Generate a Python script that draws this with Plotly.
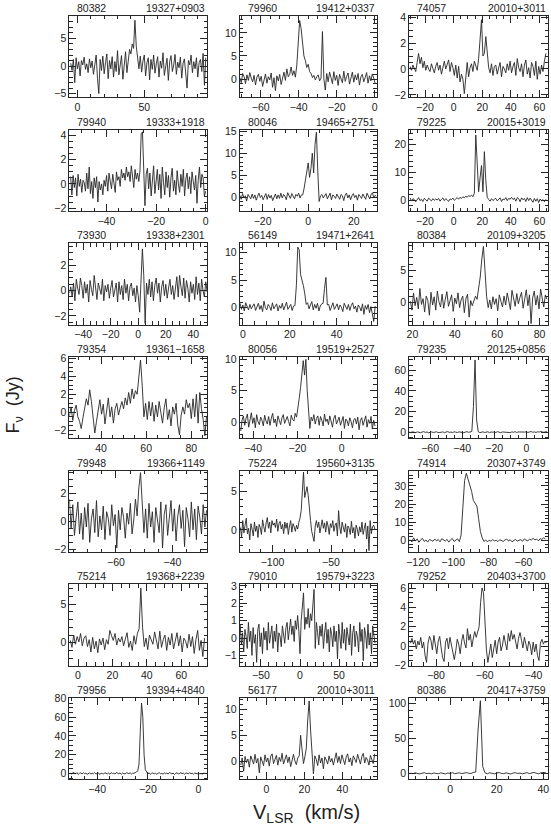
import plotly.graph_objects as go

# panels in column order (left column top->bottom, then middle, then right)
ids = ["80382", "79940", "73930", "79354", "79948", "75214", "79956",
       "79960", "80046", "56149", "80056", "75224", "79010", "56177",
       "74057", "79225", "80384", "79235", "74914", "79252", "80386"]
sources = ["19327+0903", "19333+1918", "19338+2301", "19361\u22121658", "19366+1149", "19368+2239", "19394+4840",
           "19412+0337", "19465+2751", "19471+2641", "19519+2527", "19560+3135", "19579+3223", "20010+3011",
           "20010+3011", "20015+3019", "20109+3205", "20125+0856", "20307+3749", "20403+3700", "20417+3759"]

# first channel velocity and channel width (km/s)
v_start = [-5, -54.5, -50, 26, -76.5, -4.5, -50.5,
           -71, -30, -1.2, -45.6, -127.5, -76.5, -13.5,
           -30.5, -30.5, 19, -73, -124.5, -90.5, -17]
v_step = [1, 0.5, 1, 0.75, 0.6, 1, 0.5,
          0.75, 0.6, 0.6, 0.6, 1, 1.5, 0.75,
          1, 1, 0.75, 1, 1, 0.6, 1]

flux_80382 = [0.5, -0.8, 1.2, -3.0, 1.5, -0.5, 0.8, -1.8, 1.0, 0.2, 1.6, -0.6, 0.4, -1.2, 1.3, -0.3, 0.9, -1.5,
              0.2, 2.0, -2.2, -5.0, 1.2, -0.8, 1.8, -1.4, 0.6, 2.2, -2.3, 1.0, -0.5, 1.7, -2.0, 0.8, -1.0, 2.8,
              -1.6, 0.5, 1.9, -2.4, 0.7, 2.6, -1.2, 1.5, 3.0, 2.2, 4.0, 3.2, 8.3, 3.6, 2.0, -0.5, 1.8, -1.1,
              0.9, 2.0, -1.8, 0.6, 1.5, -2.5, 1.2, -0.6, 2.0, -1.3, 0.4, 1.7, -2.0, 0.9, -0.4, 2.4, -1.7, 0.3,
              1.4, -2.6, 0.8, 1.9, -1.0, 0.2, 2.1, -1.5, 0.7, -0.3, 1.6, -2.2, 0.5, 1.3, -1.8, -4.0, 1.0, 0.2,
              2.0, -1.2, 0.8, -0.5, 1.5, -2.0, 0.6, 1.2, -1.0, 2.3, -3.5, 1.5]
flux_79940 = [0.6, -0.9, 0.7, -0.3, 0.5, -1.0, 0.8, -0.2, 0.4, -0.7, 0.3, 0.1, -0.6, 0.9, -0.4, 1.4, -0.8, 0.2,
              -1.2, 0.5, -0.3, 0.6, -1.5, 0.2, -0.5, 0.0, -0.9, 0.3, -0.2, 0.7, -0.6, 0.9, 0.2, -0.4, 0.8, 0.1,
              -0.7, 1.0, 0.3, 0.6, -0.2, 1.2, 0.5, 0.9, 0.3, 1.4, 0.6, 1.0, 0.2, 1.5, 0.7, -0.3, 1.2, 0.4,
              0.9, 0.2, 1.1, 4.2, 4.3, 0.5, -1.8, 0.8, 1.3, -0.4, 0.9, -1.0, 0.6, 1.5, -0.8, 0.2, 1.2, -0.5,
              0.8, -1.2, 1.4, 0.1, -0.9, 1.0, -0.3, 0.7, -1.1, 0.5, 1.3, -0.6, 0.3, -0.9, 1.1, 0.0, -0.7, 0.8,
              -0.2, 1.2, -1.0, 0.4, 0.9, -0.4, 0.6, -0.8, 1.0, 0.2, -0.5, 0.7, -1.6, 0.3, 1.4, -0.3, 0.8, 0.5,
              -1.0, -0.6]
flux_73930 = [-0.2, 0.3, -0.5, 0.6, -0.8, 0.9, 0.2, -0.3, 1.0, 0.4, -0.6, 0.7, -0.2, 0.5, -0.9, 0.8, 0.1, -0.4,
              1.2, 0.3, -0.7, 0.6, 0.0, -0.3, 0.9, -0.8, 0.4, -0.1, 0.5, -0.6, 0.2, 0.8, -0.5, 0.1, 0.6, -0.9,
              0.7, -0.3, 0.4, -0.7, 0.9, -0.2, 0.5, -0.8, 0.3, 0.6, -0.4, 0.2, -0.9, 0.4, -0.4, -1.7, 0.8, 3.3,
              1.2, -2.6, 0.6, -0.3, 0.9, -0.5, 0.7, -0.8, 0.4, 1.0, -0.2, 0.6, -0.9, 0.3, 0.8, -0.4, 0.5, -0.6,
              0.2, 0.9, -0.3, 0.4, -0.7, 0.1, 1.1, -0.5, 1.2, 0.3, -0.4, 1.0, -0.6, 0.8, 0.2, -0.9, 0.7, -0.2,
              0.5, -0.7, 1.1, -0.3, 0.6, -0.8, 0.9, 0.0, -0.5, 0.7, -0.1]
flux_79354 = [-0.4, 0.6, -0.9, 0.2, 0.8, -0.5, -1.0, -1.8, -0.6, 0.5, 1.5, 0.8, 2.5, 1.2, -0.8, -2.3, -1.0, 0.5,
              1.4, -0.2, 0.9, -1.3, 0.3, 1.6, -0.5, 0.6, -1.2, 0.4, 1.0, -0.3, 0.5, 1.2, 0.4, 1.6, 0.8, 2.2,
              1.0, 2.6, 1.5, 2.4, 2.0, 4.2, 5.8, 3.0, -0.5, 1.0, -0.8, 1.2, -0.4, 1.1, -1.0, 0.8, -0.5, 1.2,
              0.2, -1.2, 0.5, 1.5, -0.8, 0.3, -1.5, 0.6, -0.2, 1.0, -1.4, -2.5, -0.3, 0.6, -0.2, 1.4, 0.5, 1.0,
              -0.7, 1.5, -0.5, 2.0, -1.2, 2.2, 0.4, -0.8, -2.6, -0.4]
flux_79948 = [1.6, -0.5, 1.2, -1.0, 0.3, 1.4, -0.9, 0.6, -1.3, 1.0, -0.4, 1.3, -1.5, 0.2, 0.9, -0.8, 1.5, -1.1,
              0.4, -0.6, 1.1, -1.3, 0.7, 0.2, -1.0, 1.2, -0.3, 0.5, -1.9, 0.8, -0.6, 1.0, 0.3, -1.2, 0.6, -0.2,
              1.3, -0.9, 0.1, 1.6, 0.4, 2.4, 3.5, 1.5, -0.8, 0.9, -1.2, 1.3, -0.4, 0.7, -1.5, 1.0, 0.2, -0.8,
              1.4, -1.9, 0.5, 1.2, -1.0, 0.3, 1.5, -0.7, 0.9, -1.4, 0.4, 1.2, -0.5, 0.8, -1.8, 1.0, 0.2, -1.1,
              1.4, -0.6, 0.9, -1.3, 1.1, 0.3, -0.9, 1.2, -0.4, 0.8]
flux_75214 = [0.3, -0.6, 1.0, -0.2, 0.8, 0.1, 1.2, -0.4, 0.6, 0.9, -0.5, 0.4, -1.2, 0.7, -0.8, 0.2, -1.3, 0.5,
              -0.3, 0.6, -0.9, 0.4, -0.2, 1.6, 0.9, 0.3, 1.2, -0.3, 0.6, 0.1, 0.8, -0.4, 0.5, 1.3, -0.6, 0.2,
              -1.0, 0.9, -0.2, 1.2, 1.8, 7.1, 2.0, -0.5, 0.6, -0.9, 1.0, 0.3, -0.2, 1.4, 0.2, -0.8, 1.5, -0.6,
              0.4, 1.0, -1.0, 0.7, -0.3, 1.2, -0.8, 0.5, 1.3, -0.4, 0.9, -1.2, 0.6, 0.2, -0.7, 1.1, -0.5, 0.8,
              -1.4, 0.4, 1.6, -1.0, 0.3, -1.8, 0.6]
flux_79956 = [0.5, -0.8, 1.2, 0.2, -0.5, 0.9, -1.0, 0.3, 0.6, -0.4, 0.8, -0.2, 0.4, -0.9, 0.1, 0.7, -0.6, 0.3,
              -0.3, 0.9, -0.5, 0.2, 0.6, -1.1, 0.4, 0.0, -0.7, 0.8, 0.2, -0.4, 0.5, -0.8, 0.9, -0.1, 0.3, -0.6,
              1.0, 0.2, -0.3, 0.6, -0.9, 0.4, 0.1, -0.5, 0.8, 0.3, -0.2, 0.7, -0.6, 0.4, 0.2, 0.9, 1.5, 3.0,
              10.0, 45.0, 75.0, 60.0, 20.0, 4.0, 1.0, -0.5, 0.8, -0.9, 0.3, 0.6, -0.4, 0.2, -0.8, 0.5, 0.9, -0.3,
              0.1, -0.7, 0.6, -0.2, 0.4, -0.6, 1.0, 0.3, -0.4, 0.5, -1.2, 0.2, 0.7, -0.5, 0.1, 0.8, -0.3, 0.4,
              -0.9, 0.6, 0.2, -0.5, 0.9, -0.2, 0.3, -0.7, 0.5, 0.1, -0.4, 0.8, -0.6, 0.3, -1.0, 0.4, 0.2]
flux_79960 = [0.3, -0.8, 1.2, 0.5, -1.0, 0.9, -0.3, 1.4, 0.2, -0.6, 0.8, -1.3, 0.4, 1.0, -0.5, 0.6, -1.6, 0.2,
              1.1, -0.9, 0.5, -0.2, 1.3, -1.8, 0.3, -2.5, 0.7, -0.4, 1.0, -1.2, 0.6, 1.5, -0.3, 2.2, 0.5, 1.0,
              2.6, 0.8, 1.8, 0.4, 3.0, 8.5, 12.7, 11.0, 7.5, 5.0, 4.0, 2.5, 3.2, 1.6, 1.2, 0.3, 0.8, -0.2,
              0.5, 0.9, -0.4, 0.2, 10.3, 0.0, -2.4, 1.2, -0.6, 1.5, 0.3, -1.0, 1.6, -0.3, 0.8, -1.4, 1.0, 0.2,
              -0.8, 1.7, -0.5, 0.6, 1.3, -1.1, 0.4, 1.5, -0.7, 0.9, -0.2, 1.2, -1.3, 0.5, 1.0, -0.6, 0.3, 1.4,
              -0.9, 0.7, -0.4, 1.1, 0.2, -1.0]
flux_80046 = [0.4, -0.5, 0.8, -0.2, 0.3, -0.9, 0.6, 0.1, -0.4, 0.7, -0.3, 0.5, -0.7, 0.2, 0.9, -0.1, 0.4, -0.6,
              0.3, 0.8, -0.5, 0.6, -0.2, 0.4, -0.8, 0.1, 0.7, -0.4, 0.5, -0.3, 0.9, -0.2, 0.6, 0.2, -0.6, 1.0,
              0.3, -0.3, 0.8, 0.1, -0.4, 0.6, 0.2, 0.9, -0.2, 0.5, 0.5, 2.0, 4.0, 6.0, 7.8, 4.5, 6.5, 10.0,
              5.5, 12.0, 14.8, 6.0, -1.0, 0.3, 0.6, -0.2, 0.4, 0.8, -0.4, 0.3, 0.9, -0.6, 0.5, 0.2, -0.3, 0.7,
              0.1, -0.5, 0.6, 0.3, -0.8, 0.4, 0.9, -0.2, 0.5, -0.6, 0.3, 0.8, -0.1, 0.4, -0.7, 0.6, 0.2, -0.3,
              0.7, 0.1, -0.5, 0.9, 0.3, -0.4, 0.6, 1.0, -0.2, 0.4, 0.1]
flux_56149 = [0.8, -0.3, 0.5, -0.6, 0.9, 0.2, -0.4, 0.6, -0.2, 0.3, 0.7, -0.5, 0.1, 0.8, -0.3, 0.4, -0.7, 1.2,
              0.0, -0.4, 0.6, 0.2, -0.5, 0.9, -0.2, 0.3, 0.7, -0.6, 0.4, -0.1, 0.8, -0.4, 0.5, 1.0, -0.3, 0.2,
              0.6, -0.5, 0.3, 0.4, 4.0, 11.0, 10.5, 6.0, 5.2, 4.0, 2.5, 0.6, 0.9, -0.2, 0.5, 1.1, -0.4, 0.6,
              -0.1, 0.8, -0.6, 0.3, 0.7, 0.8, 3.5, 5.5, 0.5, 0.6, -0.5, 0.4, 0.9, -0.3, 0.2, 0.7, -0.4, 0.5,
              0.1, -0.7, 0.8, 0.2, -0.3, 0.6, -0.5, 0.4, 0.9, -0.2, 0.3, -0.8, 0.5, 0.1, -0.6, 0.7, -1.2, 0.4,
              -0.3, 0.6, -0.9, 0.2, -1.0, -2.5, 0.3]
flux_80056 = [-1.4, 0.3, 1.0, -0.5, 0.6, 1.3, -0.8, 0.4, 1.5, -0.2, 0.7, -0.9, 1.2, 0.1, -0.4, 0.8, 0.3, -0.6,
              1.1, 0.2, -0.3, 0.9, -0.5, 0.6, 1.4, -0.1, 0.5, -0.7, 1.0, 0.3, -0.4, 0.7, 1.2, -0.2, 0.5, 0.9,
              0.1, -0.6, 1.1, 0.4, 0.2, 1.4, 0.8, 2.0, 3.8, 5.5, 7.5, 9.8, 7.5, 10.0, 5.0, 1.0, -1.0, 0.8,
              0.2, 1.2, -0.3, 0.6, 1.0, -0.5, 0.9, 0.3, -0.6, 1.3, 0.1, 0.5, -0.4, 1.0, 0.2, -0.8, 0.6, 1.1,
              -0.3, 0.4, 0.8, -0.5, 0.3, 0.9, -1.0, 0.5, 0.2, -0.6, 0.7, 0.1, -0.9, 0.4, 0.6, -0.3, 0.8, -1.2,
              0.3, 0.7, -0.5, 0.2, 1.0, -0.8, 0.4, -0.2, 0.9, -1.1, 0.3, -0.6]
flux_75224 = [0.3, -0.9, 1.2, -0.4, 0.6, 1.5, -0.5, 0.2, -1.3, 0.8, 0.1, -0.8, 1.0, -0.2, 0.5, -1.0, 0.7, 0.3,
              -0.6, 1.3, 0.4, -0.3, 0.9, 1.6, 0.2, 1.0, -0.4, 1.2, 0.6, 0.9, 0.3, 1.4, -0.2, 0.8, 1.1, 0.1,
              0.7, -0.5, 1.0, 0.2, 0.9, -0.6, 0.5, 1.2, -0.3, 0.8, 0.4, -0.2, 0.6, 0.1, 1.0, 1.5, 2.5, 4.5,
              7.5, 4.2, 4.8, 5.6, 4.5, 2.5, 1.2, -0.2, -1.0, -1.5, 0.5, 1.2, 0.3, 1.0, -0.4, 0.8, 1.3, 0.2,
              0.9, -0.3, 1.1, 0.5, -0.6, 0.8, 0.3, 1.2, -0.2, 0.6, 0.9, -0.8, 2.5, 0.4, -0.5, 1.0, 0.2, -0.3,
              0.8, -1.0, 0.5, 0.2, -0.6, 1.1, -0.4, 0.3, -1.1, 0.6, 0.1, -0.8, 0.4, -0.3, 1.0, -0.6, 0.2, 0.9,
              -1.2, 0.5, -2.7, 1.2, -0.5, 0.4, 0.6, 0.1]
flux_79010 = [0.8, -0.4, 0.3, -0.8, 0.5, 0.1, -0.6, 0.9, -0.2, 0.4, -1.0, 0.6, -0.3, 0.2, -1.4, 0.5, 0.8, -0.5,
              0.3, -0.9, 0.6, -0.1, 0.4, -0.7, 0.9, -0.3, 0.2, 0.7, -0.6, 0.4, -0.2, 0.8, -0.8, 0.3, 0.1, -0.5,
              0.7, 0.2, -0.3, 0.6, 0.9, -0.1, 0.4, 1.1, 0.2, 0.7, -0.2, 1.0, 0.5, 1.3, 0.4, -0.9, 1.0, 1.8,
              2.6, 0.5, 1.2, 0.8, 1.7, 0.6, 1.4, 1.0, 2.2, 2.8, -0.6, 0.9, 0.3, -0.4, 0.7, 0.1, 0.8, -0.6,
              0.3, 0.9, -0.3, 0.5, -0.8, 0.6, 0.2, -0.5, 0.7, -0.2, 0.4, -1.2, 0.8, 0.1, -0.6, 0.9, -0.3, 0.5,
              -0.7, 0.6, 0.2, -0.4, 0.8, -1.0, 0.3, 0.7, -0.5, 0.4, 0.1, -0.8, 0.9, -0.2, 0.5, -1.3, 0.6, 0.2,
              -0.6, 0.8, -0.4, 0.3, -0.9, 0.7, 0.2, -0.3]
flux_56177 = [-0.8, 0.6, -2.0, 0.9, -0.3, 0.4, -1.2, 1.0, 0.2, -0.6, 1.3, -0.4, 0.5, -2.3, 0.8, 0.1, -0.9, 1.2,
              -0.2, 0.6, -1.0, 0.9, 1.4, -0.5, 0.3, 1.1, -0.8, 0.7, -0.1, 1.5, -0.6, 0.4, 1.2, -0.3, 0.8, -1.1,
              0.5, 1.3, 0.0, -0.7, 0.6, 1.0, 5.0, 1.5, -0.5, 0.8, 2.5, 8.0, 11.7, 6.0, 2.5, -2.5, 1.0, 0.3,
              -0.9, 1.2, -0.4, 0.6, -1.5, 0.8, 0.2, -0.6, 1.0, -0.2, 0.5, -0.8, 0.4, 1.6, -0.3, 0.9, -0.5, 1.2,
              0.3, -0.7, 0.8, 1.4, -0.2, 0.6, -0.9, 1.0, 0.4, -0.3, 1.3, 0.1, -0.6, 0.9, 1.5, -0.4, 0.7, 0.2,
              -0.8, 1.1, 0.3, -0.5, 1.4]
flux_74057 = [0.2, -0.1, 0.3, 0.1, -0.2, 0.5, 1.2, 0.4, 0.9, 0.1, 0.6, -0.1, 0.3, 0.0, -0.2, 0.4, 0.1, -0.3,
              0.2, 0.5, -0.1, 0.3, -0.4, 0.2, 0.6, 0.0, 0.4, 0.7, -0.2, 0.5, 0.1, -0.5, 0.3, -0.7, 0.2, -1.0,
              -0.4, -0.8, -1.9, -0.3, 0.5, -0.6, 0.1, 0.4, -0.2, 0.6, 0.2, -0.1, 0.8, 2.0, 3.8, 1.0, 1.2, 2.5,
              1.0, 0.1, -0.3, 0.4, -0.5, 0.2, 0.3, -0.4, 0.1, 0.5, -0.6, 0.2, 0.0, -0.3, 0.4, -0.1, 0.6, -0.3,
              0.2, 0.5, -0.5, 0.8, 0.1, -0.2, 0.4, -0.6, 0.3, 0.7, -0.4, 0.1, -0.7, 0.5, 0.2, -0.5, 0.6, -0.8,
              0.2, -0.4, 0.3, -0.2, 0.6, 1.2]
flux_79225 = [0.8, -0.3, 0.5, 0.2, -0.6, 0.4, 0.9, -0.2, 0.3, -0.5, 0.6, 0.1, -0.4, 0.7, 0.2, -0.3, 0.5, -0.1,
              0.4, 0.0, 0.6, -0.4, 0.3, 0.8, -0.2, 0.5, 0.1, -0.5, 0.4, 0.2, 0.7, -0.1, 0.4, 0.9, 0.3, 1.0,
              0.6, 1.2, 0.8, 1.4, 1.0, 1.6, 1.3, 1.8, 1.2, 2.5, 23.5, 10.0, 3.0, 8.0, 12.5, 3.0, 17.5, 7.0,
              1.0, 0.2, -0.4, 0.5, -0.2, 0.3, 0.6, -0.3, 0.2, 0.8, -0.5, 0.4, 0.1, 0.9, -0.2, 0.6, 0.3, 1.0,
              0.2, 0.7, -0.4, 0.9, 0.5, -0.6, 0.8, 0.1, 0.6, -0.5, 0.9, -0.2, 0.7, 0.0, -0.8, 0.6, -0.4, 0.5,
              -0.9, 0.4, -0.3, 0.2, -0.6, 0.3]
flux_80384 = [0.2, -1.2, 1.5, -0.5, 0.8, -1.0, 2.2, -0.3, 0.6, -1.5, 1.0, 0.3, -2.0, 1.6, -0.4, 0.9, -1.2, 1.8,
              0.1, -0.7, 1.3, -0.9, 0.5, 1.7, -0.6, 0.2, 1.2, -1.4, 0.7, -0.2, 1.5, -0.8, 0.4, 1.0, -1.6, 0.6,
              1.3, -2.3, 0.3, -0.5, 0.2, 1.0, 0.5, 2.0, 4.0, 6.8, 8.8, 5.0, 1.0, -0.8, 0.4, -1.0, 0.9, -0.3,
              0.6, -1.3, 1.2, 0.2, -0.7, 1.0, -0.4, 1.5, 0.3, -1.1, 1.9, 0.5, -0.6, 1.4, -0.2, 0.8, 1.6, -0.9,
              0.4, 2.0, -0.5, 1.2, -3.3, 0.7, 1.8, -0.4, 1.1, -1.0, 2.1, 0.3, -0.7, 1.2, 0.5]
flux_79235 = [0.3, -0.2, 0.5, 0.1, -0.3, 0.4, 0.0, -0.4, 0.2, 0.6, -0.1, 0.3, -0.5, 0.2, 0.4, -0.2, 0.1, 0.5,
              -0.3, 0.2, 0.0, 0.4, -0.4, 0.3, 0.6, -0.1, 0.2, -0.3, 0.5, 0.1, -0.2, 0.4, 0.0, 0.3, -0.4, 0.2,
              0.6, -0.1, 0.3, 0.8, 25.0, 70.0, 12.0, 0.5, -0.3, 0.2, 0.4, -0.2, 0.1, 0.5, -0.3, 0.3, 0.0, 0.4,
              -0.2, 0.6, 0.1, -0.4, 0.3, 0.2, -0.1, 0.5, 0.2, -0.3, 0.4, 0.0, 0.6, -0.2, 0.3, 0.1, 0.4, -0.3,
              0.2, 0.5, -0.1, 0.3, 0.7, 0.0, 0.4, -0.2, 0.5, 0.2, 0.8, 0.3, -0.1, 0.6, 0.4]
flux_74914 = [0.5, -0.8, 1.5, -0.3, 0.9, -1.0, 0.4, 1.2, -0.5, 0.3, -0.9, 0.6, 0.1, -0.4, 0.8, -0.2, 0.5, -0.7,
              1.0, 0.2, -0.3, 0.6, -0.9, 0.4, 1.1, -0.5, 0.3, 0.9, -0.6, 3.0, 18.0, 33.0, 37.0, 34.0, 30.0, 27.0,
              22.0, 20.5, 19.0, 12.0, 5.0, 1.5, -0.5, 0.3, -0.8, 0.2, -0.4, 0.5, -0.2, 0.1, -0.6, 0.4, 0.0, -0.5,
              0.3, 0.8, -0.2, 0.4, -0.7, 0.2, 0.6, -0.3, 0.1, 0.5, -0.4, 0.9, 0.2, -0.1, 0.7, 0.3, 1.2, 0.4,
              0.8, -0.2, 1.0, 0.6, 1.5, 0.9]
flux_79252 = [0.3, 0.8, 0.2, 0.6, -0.3, 0.5, 0.1, 0.9, -0.2, 0.4, -1.0, -1.7, 0.3, 1.0, 0.6, -0.4, 1.1, 0.2,
              -0.8, 0.5, 1.0, -0.2, -1.2, -1.6, 0.4, 0.8, -0.3, 0.9, 0.1, -0.7, -1.4, -0.5, 0.7, 0.2, -0.8, 0.5,
              1.2, 0.3, -0.2, 1.8, 0.6, 1.2, -0.1, 0.8, 1.5, 0.9, 1.6, 2.0, 4.5, 6.0, 5.5, 2.0, -0.4, -1.7,
              -0.9, 0.2, -1.2, -0.3, 0.6, -0.8, 0.4, 0.9, -0.5, 0.1, 1.1, 0.3, -0.4, 1.3, 0.5, 1.6, 0.7, 1.2,
              0.2, -0.3, 0.8, 1.4, 0.6, -0.2, 0.9, 0.3, -0.5, 0.5, 0.1, -0.9, 0.4, -0.6, 0.2, -1.0, -1.5, 0.3,
              0.7, 0.2, 0.5, 0.3]
flux_80386 = [0.5, -0.3, 0.8, 0.2, -0.6, 0.4, 1.0, -0.2, 0.3, -0.5, 0.6, 0.1, -0.4, 0.9, 0.3, -0.7, 0.5, 0.2,
              1.1, -0.3, 0.4, 0.8, -0.2, 0.6, 1.2, 0.3, 0.0, 1.5, 2.0, 62.0, 104.0, 10.0, 0.8, -0.4, 1.0, 0.2,
              -0.6, 0.7, 1.3, 0.1, -0.3, 0.9, 0.4, -0.8, 0.6, 1.1, 0.0, 0.5, -0.5, 0.8, 1.2, -0.2, 0.6, 1.5,
              0.3, -0.4, 1.0, 0.7, 1.3]

fluxes = [flux_80382, flux_79940, flux_73930, flux_79354, flux_79948, flux_75214, flux_79956,
          flux_79960, flux_80046, flux_56149, flux_80056, flux_75224, flux_79010, flux_56177,
          flux_74057, flux_79225, flux_80384, flux_79235, flux_74914, flux_79252, flux_80386]

# axis settings: x range, y range, major/minor x step, major/minor y step
x_ranges = [[-6, 97], [-55, 0.6], [-50, 50], [26, 87], [-76.5, -27.7], [-5, 75], [-51, 3.4],
            [-71, 1], [-30, 30], [-1.3, 57], [-46, 15.7], [-128, -11], [-77, 98], [-14, 58],
            [-31, 66], [-31, 66], [18.5, 84], [-73, 13.5], [-125, -46], [-91, -34], [-17.5, 42]]
y_ranges = [[-5.7, 9.1], [-2.25, 4.5], [-2.7, 3.75], [-2.9, 6.15], [-2.2, 3.65], [-3, 7.6], [-6.4, 80.5],
            [-4, 13.7], [-3.2, 15.4], [-3.1, 11.7], [-2.6, 10.4], [-2.9, 7.7], [-1.6, 3.1], [-3.6, 12.3],
            [-2.2, 4.1], [-4, 25.5], [-3.5, 9.3], [-6, 73], [-6.4, 38.5], [-2.05, 6.4], [-8.6, 108]]
x_ticks = [(50, 10), (20, 5), (20, 5), (20, 5), (20, 5), (20, 5), (20, 5),
           (20, 5), (20, 5), (20, 5), (20, 5), (50, 10), (50, 10), (20, 5),
           (20, 5), (20, 5), (20, 5), (20, 5), (20, 5), (20, 5), (20, 5)]
y_ticks = [(5, 1), (2, 0.5), (2, 0.5), (2, 0.5), (2, 0.5), (5, 1), (20, 5),
           (5, 1), (5, 1), (5, 1), (5, 1), (5, 1), (1, 0.2), (5, 1),
           (2, 0.5), (10, 2), (5, 1), (20, 5), (10, 2), (2, 0.5), (50, 10)]

W, H = 551, 828
col_px = [(67, 206), (239, 377), (410, 550)]
row_top = 10
row_gap = 115.2
panel_h = 82.7
FONT = "Liberation Sans, Arial, sans-serif"
INK = "#262626"

fig = go.Figure()
annotations = []
for k in range(21):
    col, row = k // 7, k % 7
    n = k + 1
    flux = fluxes[k]
    vel = [v_start[k] + v_step[k] * i for i in range(len(flux))]
    xa = "x" if n == 1 else "x%d" % n
    ya = "y" if n == 1 else "y%d" % n
    fig.add_trace(go.Scatter(x=vel, y=flux, mode="lines", xaxis=xa, yaxis=ya,
                             line=dict(color=INK, width=0.9),
                             showlegend=False, hoverinfo="skip"))
    x0, x1 = col_px[col]
    top = row_top + row * row_gap
    bot = top + panel_h
    xd = [x0 / W, x1 / W]
    yd = [1 - bot / H, 1 - top / H]
    common = dict(showline=True, linecolor=INK, linewidth=1, mirror="allticks",
                  ticks="inside", ticklen=7, tickwidth=1, tickcolor=INK,
                  showgrid=False, zeroline=False, tick0=0,
                  tickfont=dict(family=FONT, size=10.5, color="#222"))
    fig.layout["xaxis%d" % n] = dict(common, domain=xd, anchor=ya, range=x_ranges[k],
                                     dtick=x_ticks[k][0],
                                     minor=dict(ticks="inside", ticklen=3.5, dtick=x_ticks[k][1],
                                                tickcolor=INK, showgrid=False))
    fig.layout["yaxis%d" % n] = dict(common, domain=yd, anchor=xa, range=y_ranges[k],
                                     dtick=y_ticks[k][0],
                                     minor=dict(ticks="inside", ticklen=3.5, dtick=y_ticks[k][1],
                                                tickcolor=INK, showgrid=False))
    annotations.append(dict(text=ids[k], x=(x0 + 6) / W, y=yd[1], xref="paper", yref="paper",
                            xanchor="left", yanchor="bottom", showarrow=False,
                            font=dict(family=FONT, size=10.5, color="#222")))
    annotations.append(dict(text=sources[k], x=x1 / W, y=yd[1], xref="paper", yref="paper",
                            xanchor="right", yanchor="bottom", showarrow=False,
                            font=dict(family=FONT, size=10.5, color="#222")))

annotations.append(dict(text="F<sub>\u03bd</sub>  (Jy)", x=12 / W, y=1 - 404 / H, xref="paper", yref="paper",
                        textangle=-90, showarrow=False, xanchor="center", yanchor="middle",
                        font=dict(family=FONT, size=18, color="#222")))
annotations.append(dict(text="V<sub>LSR</sub>  (km/s)", x=306 / W, y=1 - 818 / H, xref="paper", yref="paper",
                        showarrow=False, xanchor="center", yanchor="middle",
                        font=dict(family=FONT, size=20, color="#222")))

fig.update_layout(width=W, height=H, margin=dict(l=0, r=0, t=0, b=0),
                  paper_bgcolor="white", plot_bgcolor="white",
                  annotations=annotations, hovermode=False)
fig.write_html("out.html", config={"displayModeBar": False},
               post_script="document.body.style.margin='0';document.body.style.overflow='hidden';")
